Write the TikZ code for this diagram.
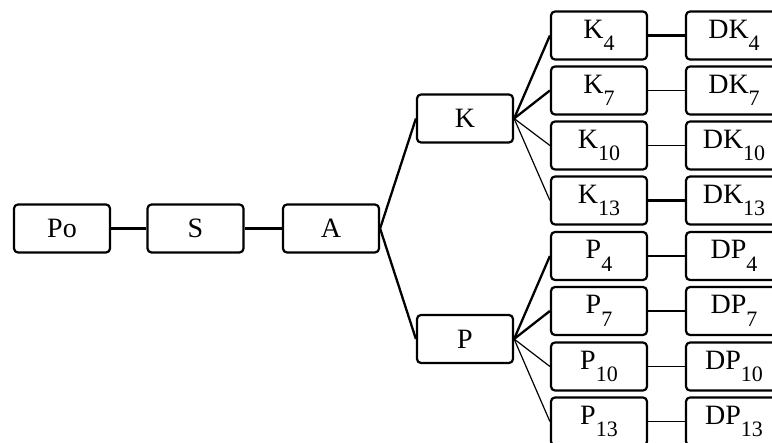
\documentclass[tikz,border=0pt]{standalone}
\usepackage{fontspec}
\setmainfont{Liberation Serif}
% lowered index digits, set a little smaller than the letters
\newcommand{\idx}[1]{\raisebox{-12.5pt}{\fontsize{22}{22}\selectfont #1}}
\begin{document}
\begin{tikzpicture}[x=1pt,y=-1pt,
  box/.style={draw, line width=2.2pt, rounded corners=4pt,
    minimum width=96pt, minimum height=48pt, inner sep=0pt,
    fill=white, font=\fontsize{28}{28}\selectfont},
  heavy/.style={line width=2.3pt},
  light/.style={line width=1.2pt}]
\useasboundingbox (0,0) rectangle (772,443);
\clip (0,0) rectangle (772,443);

% main chain
\node[box] (po) at (62,228.5) {Po};
\node[box] (s)  at (195.5,228.5) {S};
\node[box] (a)  at (331,228.5) {A};

% the two branches
\node[box] (k) at (465,118.5) {K};
\node[box] (p) at (465,339) {P};

% leaves of K
\node[box] (k4)  at (599,35.5)  {K\idx{4}};
\node[box] (k7)  at (599,90.5)  {K\idx{7}};
\node[box] (k10) at (599,145.5) {K\idx{10}};
\node[box] (k13) at (599,200.5) {K\idx{13}};
\node[box] (dk4)  at (734,35.5)  {DK\idx{4}};
\node[box] (dk7)  at (734,90.5)  {DK\idx{7}};
\node[box] (dk10) at (734,145.5) {DK\idx{10}};
\node[box] (dk13) at (734,200.5) {DK\idx{13}};

% leaves of P
\node[box] (p4)  at (599,256)   {P\idx{4}};
\node[box] (p7)  at (599,311)   {P\idx{7}};
\node[box] (p10) at (599,366.5) {P\idx{10}};
\node[box] (p13) at (599,421.5) {P\idx{13}};
\node[box] (dp4)  at (734,256)   {DP\idx{4}};
\node[box] (dp7)  at (734,311)   {DP\idx{7}};
\node[box] (dp10) at (734,366.5) {DP\idx{10}};
\node[box] (dp13) at (734,421.5) {DP\idx{13}};

% connectors
\draw[heavy] (po.east) -- (s.west);
\draw[heavy] (s.east) -- (a.west);
\draw[heavy] (a.east) -- (k.west);
\draw[heavy] (a.east) -- (p.west);

\draw[heavy] (k.east) -- (k4.west);
\draw[heavy] (k.east) -- (k7.west);
\draw[light] (k.east) -- (k10.west);
\draw[light] (k.east) -- (k13.west);
\draw[heavy] (p.east) -- (p4.west);
\draw[heavy] (p.east) -- (p7.west);
\draw[light] (p.east) -- (p10.west);
\draw[light] (p.east) -- (p13.west);

\draw[heavy] (k4.east) -- (dk4.west);
\draw[light] (k7.east) -- (dk7.west);
\draw[light] (k10.east) -- (dk10.west);
\draw[heavy] (k13.east) -- (dk13.west);
\draw[heavy] (p4.east) -- (dp4.west);
\draw[heavy] (p7.east) -- (dp7.west);
\draw[light] (p10.east) -- (dp10.west);
\draw[light] (p13.east) -- (dp13.west);
\end{tikzpicture}
\end{document}
